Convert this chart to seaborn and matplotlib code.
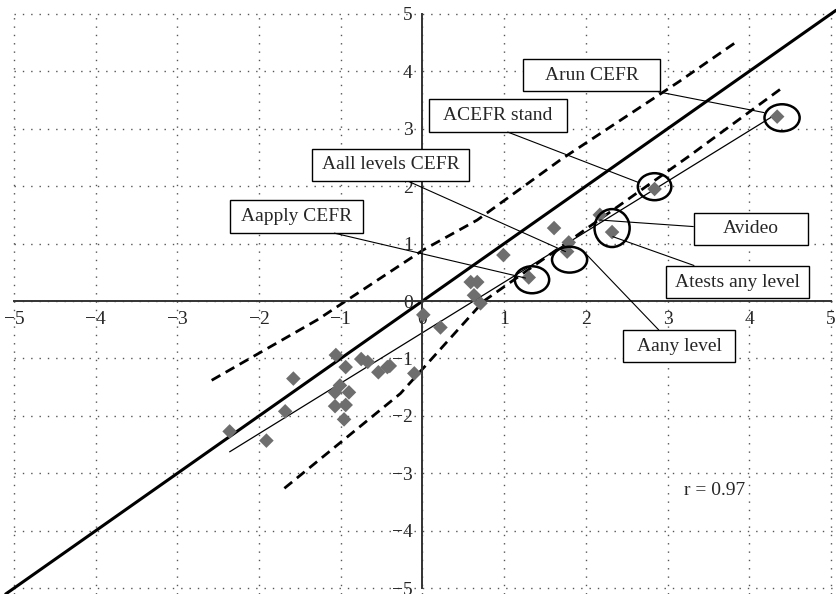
import matplotlib
matplotlib.use("Agg")
import matplotlib.pyplot as plt
from matplotlib.patches import Ellipse, Rectangle
import seaborn as sns

# scatter points
x_vals = [-2.36, -1.91, -1.68, -1.58, -1.06, -0.94, -0.75, -0.67, -0.54, -0.43,
          -0.40, -0.10, -1.01, -0.90, -1.07, -1.07, -0.94, -0.96, 0.99, 1.61,
          0.59, 0.67, 0.63, 0.71, 0.01, 0.22, 1.30, 1.79, 1.77, 2.17,
          2.32, 2.84, 4.34]
y_vals = [-2.27, -2.43, -1.92, -1.35, -0.94, -1.15, -1.01, -1.06, -1.24, -1.15,
          -1.13, -1.26, -1.47, -1.59, -1.59, -1.83, -1.81, -2.06, 0.80, 1.27,
          0.33, 0.33, 0.10, -0.04, -0.24, -0.46, 0.41, 1.02, 0.86, 1.50,
          1.20, 1.95, 3.21]

# hand drawn band lines
upper_x = [-2.58, -1.29, 0.01, 0.67, 1.69, 3.14, 3.82]
upper_y = [-1.38, -0.33, 0.89, 1.41, 2.46, 3.82, 4.49]
lower_x = [-1.69, -0.27, 0.75, 1.69, 3.25, 4.42]
lower_y = [-3.26, -1.61, 0.00, 0.94, 2.51, 3.73]

# labelled points
labels = ["Arun CEFR", "ACEFR stand", "Aall levels CEFR", "Aapply CEFR",
          "Avideo", "Atests any level", "Aany level"]
label_x = [2.07, 0.92, -0.39, -1.54, 4.02, 3.86, 3.14]
label_y = [3.93, 3.23, 2.37, 1.47, 1.26, 0.33, -0.79]
box_w = [1.68, 1.69, 1.93, 1.62, 1.40, 1.75, 1.38]
box_h = [0.56, 0.56, 0.56, 0.56, 0.56, 0.56, 0.56]
target_x = [4.18, 2.65, 1.75, 1.26, 2.17, 2.33, 2.00]
target_y = [3.28, 2.06, 0.86, 0.40, 1.41, 1.12, 0.82]
anchors = [(0.77, 0), (0.40, 0), (0.5, 0), (0.53, 0), (0, 0.5), (0.33, 1), (0.35, 1)]

# circles drawn round the labelled points
circle_x = [4.40, 2.84, 2.32, 1.80, 1.34]
circle_y = [3.19, 1.99, 1.27, 0.72, 0.37]
circle_w = [0.43, 0.41, 0.43, 0.43, 0.42]
circle_h = [0.47, 0.47, 0.66, 0.45, 0.47]

ticks = [-5, -4, -3, -2, -1, 0, 1, 2, 3, 4, 5]

sns.set_style("white")
plt.rcParams["font.family"] = ["Liberation Serif", "DejaVu Serif"]
plt.rcParams["font.size"] = 14

fig = plt.figure(figsize=(8.36, 5.94), dpi=100)
ax = fig.add_axes([0, 0, 1, 1])
ax.set_xlim(-5.17, 5.06)
ax.set_ylim(-5.10, 5.24)

# dotted grid
ax.hlines(ticks, -5, 5.06, colors="#555555", linestyles=(0, (1, 5)), lw=1.0, zorder=0)
ax.vlines(ticks, -5.10, 5, colors="#555555", linestyles=(0, (1, 5)), lw=1.0, zorder=0)

# axes through the origin
for side in ["top", "right"]:
    ax.spines[side].set_visible(False)
ax.spines["left"].set_position(("data", 0))
ax.spines["bottom"].set_position(("data", 0))
ax.spines["left"].set_bounds(-5, 5)
ax.spines["bottom"].set_bounds(-5, 5)
for side in ["left", "bottom"]:
    ax.spines[side].set_color("#333333")
    ax.spines[side].set_linewidth(1.4)
ax.set_xticks(ticks)
ax.set_yticks(ticks)
ax.tick_params(direction="out", length=5, width=1.1, color="#333333",
               labelsize=14, pad=2)

# identity line
ax.axline((0, 0), slope=1, color="black", lw=2.2, zorder=2)

# band lines
ax.plot(upper_x, upper_y, color="black", lw=2, dashes=(3.6, 2.2), zorder=2)
ax.plot(lower_x, lower_y, color="black", lw=2, dashes=(3.6, 2.2), zorder=2)

# regression line and points
sns.regplot(x=x_vals, y=y_vals, scatter=False, ci=None, truncate=True,
            color="black", line_kws={"lw": 0.9, "zorder": 2}, ax=ax)
sns.scatterplot(x=x_vals, y=y_vals, marker="D", s=55, color="#6e6e6e",
                edgecolor="none", ax=ax, zorder=3)

for cx, cy, w, h in zip(circle_x, circle_y, circle_w, circle_h):
    ax.add_patch(Ellipse((cx, cy), w, h, fill=False, edgecolor="black",
                         lw=1.8, zorder=4))

for lab, lx, ly, bw, bh, tx, ty, rp in zip(labels, label_x, label_y, box_w, box_h,
                                           target_x, target_y, anchors):
    box = Rectangle((lx - bw / 2, ly - bh / 2), bw, bh, fc="white", ec="black",
                    lw=1.0, zorder=5)
    ax.add_patch(box)
    ax.annotate(lab, xy=(tx, ty), xytext=(lx, ly), ha="center", va="center",
                fontsize=14, zorder=6,
                arrowprops=dict(arrowstyle="-", color="black", lw=0.8,
                                patchA=box, relpos=rp, shrinkA=0, shrinkB=0))

ax.text(3.57, -3.30, "r = 0.97", ha="center", va="center", fontsize=14)

ax.set_xlabel("")
ax.set_ylabel("")
fig.savefig("out.png", dpi=100)
